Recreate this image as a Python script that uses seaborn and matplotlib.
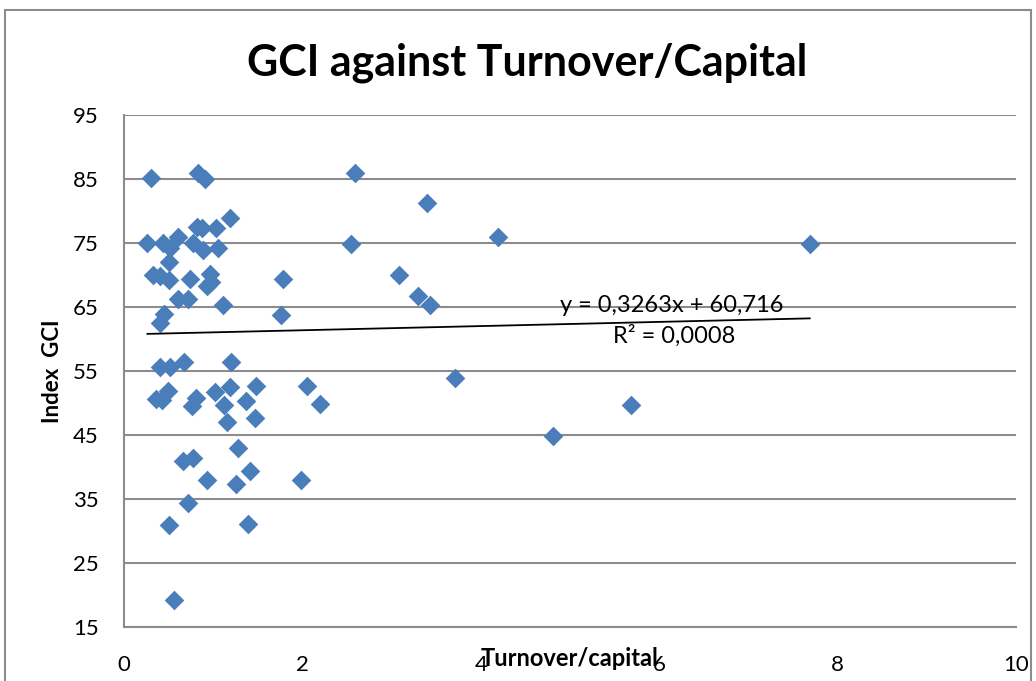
import numpy as np
import pandas as pd
import matplotlib
matplotlib.use("Agg")
import matplotlib.pyplot as plt
import seaborn as sns
from matplotlib.patches import Rectangle

# Turnover/capital vs GCI values
turnover = [
    0.30, 0.83, 0.91, 2.59, 3.40, 1.19, 0.82, 0.87, 1.03,
    0.26, 0.44, 0.52, 0.61, 0.77, 0.89, 1.05, 2.54, 4.19, 7.69,
    0.50, 0.33, 0.40, 0.50, 0.74, 0.96, 0.93, 0.98, 1.78, 3.08,
    0.61, 0.72, 1.11, 3.30, 3.43, 0.45, 0.40, 1.76,
    0.40, 0.52, 0.67, 1.20, 0.36, 0.43, 0.49, 0.81, 0.76, 1.02,
    1.19, 1.12, 1.15, 1.37, 1.47, 1.48, 2.05, 2.20, 3.71, 5.68,
    4.81, 1.28, 0.66, 0.77, 0.93, 1.26, 1.41, 1.98, 0.72, 0.50,
    1.39, 0.56,
]
gci = [
    85.2, 85.9, 85.0, 85.9, 81.25, 78.9, 77.5, 77.3, 77.3,
    75.0, 75.0, 74.2, 75.9, 75.0, 73.9, 74.2, 74.8, 75.9, 74.8,
    72.0, 70.0, 69.8, 69.2, 69.4, 70.2, 68.3, 68.9, 69.4, 70.0,
    66.25, 66.25, 65.3, 66.7, 65.3, 63.9, 62.5, 63.75,
    55.6, 55.6, 56.4, 56.4, 50.6, 50.5, 51.9, 50.8, 49.5, 51.7,
    52.5, 49.7, 47.0, 50.3, 47.7, 52.7, 52.7, 49.8, 53.9, 49.7,
    44.8, 43.0, 40.9, 41.4, 38.0, 37.3, 39.4, 38.0, 34.4, 30.9,
    31.1, 19.2,
]

# linear trendline shown on the chart
trend_slope = 0.3263
trend_intercept = 60.716
trend_label = "y = 0,3263x + 60,716"
r2_label = "R² = 0,0008"

x_ticks = [0, 2, 4, 6, 8, 10]
y_ticks = [15, 25, 35, 45, 55, 65, 75, 85, 95]

df = pd.DataFrame({"turnover": turnover, "gci": gci})

sns.set_style("white")
plt.rcParams["font.family"] = ["Lato", "DejaVu Sans"]
plt.rcParams["text.color"] = "black"
plt.rcParams["axes.labelcolor"] = "black"
plt.rcParams["xtick.color"] = "black"
plt.rcParams["ytick.color"] = "black"

fig = plt.figure(figsize=(10.36, 6.81), dpi=100)
ax = fig.add_axes([0.1197, 0.0793, 0.861, 0.7518])

# outer chart frame
fig.patches.append(Rectangle((5 / 1036, -0.05), 1026 / 1036, 1.05 - 10 / 681,
                             transform=fig.transFigure, fill=False,
                             edgecolor="#8c8c8c", linewidth=1.5))

sns.scatterplot(data=df, x="turnover", y="gci", marker="D", s=100,
                color="#4a7ebb", edgecolor="#4a7ebb", linewidth=0,
                ax=ax, zorder=3, legend=False)

xs = np.array([min(turnover), max(turnover)])
ax.plot(xs, trend_slope * xs + trend_intercept, color="black", lw=1.3, zorder=4)

ax.text(6.14, 65.3, trend_label, ha="center", va="center", fontsize=17)
ax.text(6.17, 60.5, r2_label, ha="center", va="center", fontsize=17)

ax.set_xlim(0, 10)
ax.set_ylim(15, 95)
ax.set_xticks(x_ticks)
ax.set_yticks(y_ticks)
ax.yaxis.grid(True, color="#8c8c8c", linewidth=1.5)
ax.xaxis.grid(False)
ax.set_axisbelow(True)

for side in ["top", "right"]:
    ax.spines[side].set_visible(False)
for side in ["left", "bottom"]:
    ax.spines[side].set_color("#8c8c8c")
    ax.spines[side].set_linewidth(1.5)

ax.tick_params(axis="both", which="both", direction="out", length=6,
               width=1.2, color="#8c8c8c", labelcolor="black", labelsize=16)
ax.tick_params(axis="x", pad=14)
ax.tick_params(axis="y", pad=12)

ax.set_xlabel("Turnover/capital", fontsize=17, fontweight="bold", labelpad=-20)
ax.set_ylabel("Index  GCI", fontsize=16, fontweight="bold", labelpad=7)

fig.suptitle("GCI against Turnover/Capital", fontsize=31, fontweight="bold",
             x=0.509, y=0.937)

fig.savefig("out.png", dpi=100)
